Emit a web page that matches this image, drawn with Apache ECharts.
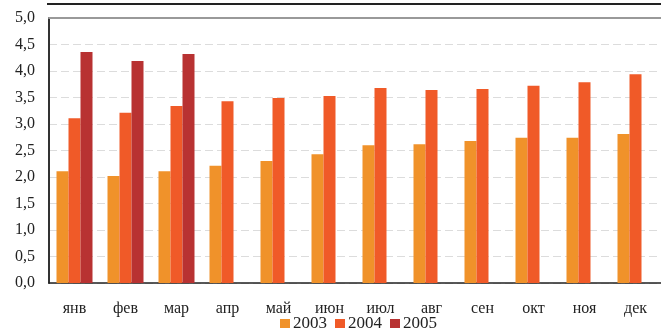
<!DOCTYPE html>
<html>
<head>
<meta charset="utf-8">
<script src="https://cdn.jsdelivr.net/npm/echarts@6/dist/echarts.min.js"></script>
<style>
    html, body { margin: 0; padding: 0; background: #ffffff; }
    #chart { width: 661px; height: 331px; }
</style>
</head>
<body>
<div id="chart"></div>
<script>
const months = ['янв', 'фев', 'мар', 'апр', 'май', 'июн', 'июл', 'авг', 'сен', 'окт', 'ноя', 'дек'];
const years = ['2003', '2004', '2005'];
const values2003 = [2.11, 2.02, 2.11, 2.21, 2.30, 2.43, 2.60, 2.62, 2.68, 2.74, 2.74, 2.81];
const values2004 = [3.11, 3.21, 3.34, 3.43, 3.49, 3.53, 3.68, 3.64, 3.66, 3.72, 3.79, 3.94];
const values2005 = [4.36, 4.19, 4.32, null, null, null, null, null, null, null, null, null];
const colors = ['#f0922a', '#f05a28', '#b83232'];

const font = '"Liberation Serif", "DejaVu Serif", serif';

const mkSeries = (name, data) => ({
    name: name,
    type: 'bar',
    barWidth: 12,
    barGap: '0%',
    data: data
});

let option = {
    animation: false,
    color: colors,
    textStyle: { fontFamily: font },
    legend: {
        data: years,
        top: 315,
        left: 280,
        padding: 0,
        itemWidth: 10,
        itemHeight: 9,
        itemGap: 8,
        icon: 'rect',
        textStyle: { fontFamily: font, fontSize: 17, color: '#222', padding: [0, 0, 0, -2] }
    },
    grid: {
        left: 49,
        right: -7,
        top: 18,
        bottom: 48
    },
    graphic: [
        {
            type: 'line',
            shape: { x1: 47, y1: 4, x2: 661, y2: 4 },
            style: { stroke: '#222', lineWidth: 2 }
        }
    ],
    xAxis: [
        {
            type: 'category',
            data: months,
            axisLine: { lineStyle: { color: '#222', width: 1.5 } },
            axisTick: { inside: true, length: 5, lineStyle: { color: '#333' } },
            axisLabel: { fontFamily: font, fontSize: 16, color: '#222', margin: 18 }
        },
        {
            type: 'category',
            position: 'top',
            data: months,
            axisLine: { lineStyle: { color: '#999', width: 2 } },
            axisTick: { show: false },
            axisLabel: { show: false }
        }
    ],
    yAxis: {
        type: 'value',
        min: 0,
        max: 5,
        interval: 0.5,
        axisLine: { show: true, lineStyle: { color: '#333', width: 2 } },
        axisTick: { show: false },
        splitLine: { lineStyle: { color: '#dcdcdc', type: [8, 4] } },
        axisLabel: {
            fontFamily: font,
            fontSize: 16,
            color: '#222',
            margin: 14,
            formatter: v => v.toFixed(1).replace('.', ',')
        }
    },
    series: [
        mkSeries(years[0], values2003),
        mkSeries(years[1], values2004),
        mkSeries(years[2], values2005)
    ]
};

let myChart = echarts.init(document.getElementById('chart'));
option && myChart.setOption(option);
</script>
</body>
</html>
